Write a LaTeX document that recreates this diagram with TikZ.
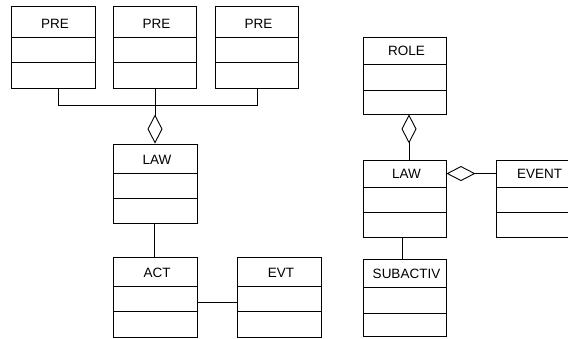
\documentclass[tikz,border=0pt]{standalone}
\usepackage{fontspec}
\setmainfont{Liberation Sans}
\usetikzlibrary{arrows.meta,calc}
\tikzset{
  clsbox/.style={draw=black, line width=0.9pt, rectangle, inner sep=0pt, fill=white},
  clsline/.style={draw=black, line width=0.9pt},
  clslabel/.style={anchor=base, inner sep=0pt, font=\fontsize{13.5}{15}\selectfont},
  conn/.style={draw=black, line width=0.9pt},
  agg/.style={conn, -{Diamond[open, fill=white, length=29pt, width=15pt, line width=0.9pt]}},
}
\newcommand\umlbox[8]{%
  \node[clsbox, minimum width={#4-#2}, minimum height={#5-#3}] (#1) at ({(#2+#4)/2},{(#3+#5)/2}) {};
  \draw[clsline] (#2,#6) -- (#4,#6) (#2,#7) -- (#4,#7);
  \node[clslabel] (#1-label) at ({(#2+#4)/2+2},{#6-8.5}) {#8};
}
\begin{document}
\begin{tikzpicture}[x=1pt,y=-1pt]
\useasboundingbox (0,0) rectangle (568,338);
\clip (0,0) rectangle (568,338);
\umlbox{pre1}{11}{6}{95}{88}{37}{62}{PRE}
\umlbox{pre2}{113}{6}{196}{88}{37}{62}{PRE}
\umlbox{pre3}{215}{6}{298}{88}{37}{62}{PRE}
\umlbox{lawa}{113}{144}{197}{223}{173}{198}{LAW}
\umlbox{act}{113}{257}{197}{337}{286}{311}{ACT}
\umlbox{evt}{237}{257}{321}{337}{286}{311}{EVT}
\umlbox{role}{363}{37}{446}{114}{64}{90}{ROLE}
\umlbox{lawb}{363}{160}{446}{237}{187}{212}{LAW}
\umlbox{event}{496}{160}{579}{237}{187}{212}{EVENT}
\umlbox{subactiv}{363}{259}{446}{336}{287}{313}{SUBACTIV}
% left group
\coordinate (j1) at ($(pre1.south)+(5,17)$);
\draw[conn] ($(pre1.south)+(5,0)$) -- (j1) -| ($(pre3.south)+(1,0)$);
\draw[agg] ($(pre2.south)+(0.5,0)$) -- ($(lawa.north)+(0,0)$);
\draw[conn] ($(lawa.south)+(-1,0)$) -- ($(act.north)+(-1,0)$);
\draw[conn] ($(act.north east)+(0,46)$) -- ($(evt.north west)+(0,46)$);
% right group
\draw[agg] ($(lawb.north)+(4.5,0)$) -- ($(role.south)+(4.5,0)$);
\draw[agg] ($(event.north west)+(0,14)$) -- ($(lawb.north east)+(0,14)$);
\draw[conn] ($(lawb.south)+(-2.5,0)$) -- ($(subactiv.north)+(-2.5,0)$);
\end{tikzpicture}
\end{document}
